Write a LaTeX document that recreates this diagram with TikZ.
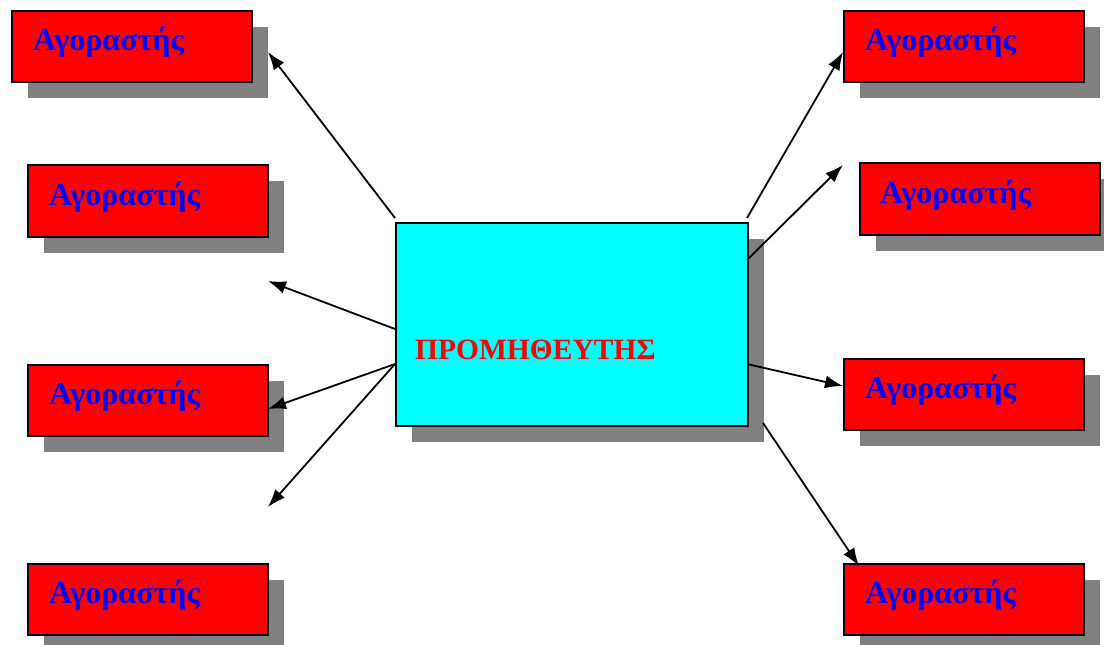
\documentclass[tikz,border=0pt]{standalone}
\usepackage{fontspec}
\setmainfont{Liberation Serif}
\usetikzlibrary{arrows.meta,shadows}
\definecolor{boxred}{HTML}{FF0000}
\definecolor{txtblue}{HTML}{0000FF}
\definecolor{boxcyan}{HTML}{00FFFF}
\definecolor{shadowgray}{HTML}{808080}
\tikzset{
  buyer/.style={draw=black, line width=2pt, fill=boxred, anchor=north west,
    minimum width=240pt, minimum height=71pt, inner sep=0pt,
    drop shadow={shadow xshift=16pt, shadow yshift=-16pt, fill=shadowgray, opacity=1}},
  supplier/.style={draw=black, line width=2pt, fill=boxcyan, anchor=north west,
    minimum width=352pt, minimum height=203pt, inner sep=0pt,
    drop shadow={shadow xshift=16pt, shadow yshift=-16pt, fill=shadowgray, opacity=1}},
  buyertext/.style={anchor=base west, inner sep=0pt, text=txtblue,
    font=\fontsize{32}{38}\selectfont\bfseries},
  suppliertext/.style={anchor=base west, inner sep=0pt, text=boxred,
    font=\fontsize{29.5}{36}\selectfont\bfseries},
  link/.style={line width=1.8pt, -{Latex[length=18pt,width=13pt]}}
}
\begin{document}
\begin{tikzpicture}[x=1pt,y=-1pt]
\useasboundingbox (0,0) rectangle (1104,645);
% buyer boxes
\node[buyer] (L1) at (11,10) {};
\node[buyer, minimum height=72pt] (L2) at (27,164) {};
\node[buyer] (L3) at (27,364) {};
\node[buyer] (L4) at (27,563) {};
\node[buyer] (R1) at (843,10) {};
\node[buyer, minimum height=72pt] (R2) at (859,162) {};
\node[buyer] (R3) at (843,358) {};
\node[buyer] (R4) at (843,563) {};
% supplier box
\node[supplier] (C) at (395,222) {};
% texts
\node[buyertext] (tL1) at (33,50) {Αγοραστής};
\node[buyertext] (tL2) at (49,205) {Αγοραστής};
\node[buyertext] (tL3) at (49,404) {Αγοραστής};
\node[buyertext] (tL4) at (49,603) {Αγοραστής};
\node[buyertext] (tR1) at (865,50) {Αγοραστής};
\node[buyertext] (tR2) at (880,203) {Αγοραστής};
\node[buyertext] (tR3) at (865,398) {Αγοραστής};
\node[buyertext] (tR4) at (865,603) {Αγοραστής};
\node[suppliertext] (tC) at (415,359) {ΠΡΟΜΗΘΕΥΤΗΣ};
% connector end points
\coordinate (s1) at (395,218);
\coordinate (s2) at (395,329);
\coordinate (s3) at (395,364);
\coordinate (s5) at (747,218);
\coordinate (s6) at (747,260);
\coordinate (s7) at (747,364);
\coordinate (s8) at (763,423);
\coordinate (e1) at (268,52);
\coordinate (e2) at (268,281);
\coordinate (e3) at (268,409);
\coordinate (e4) at (268,507);
\coordinate (e5) at (843,52);
\coordinate (e6) at (843,165);
\coordinate (e7) at (843,386);
\coordinate (e8) at (859,566);
% connectors
\draw[link] (s1) -- (e1);
\draw[link] (s2) -- (e2);
\draw[link] (s3) -- (e3);
\draw[link] (s3) -- (e4);
\draw[link] (s5) -- (e5);
\draw[link] (s6) -- (e6);
\draw[link] (s7) -- (e7);
\draw[link] (s8) -- (e8);
\end{tikzpicture}
\end{document}
